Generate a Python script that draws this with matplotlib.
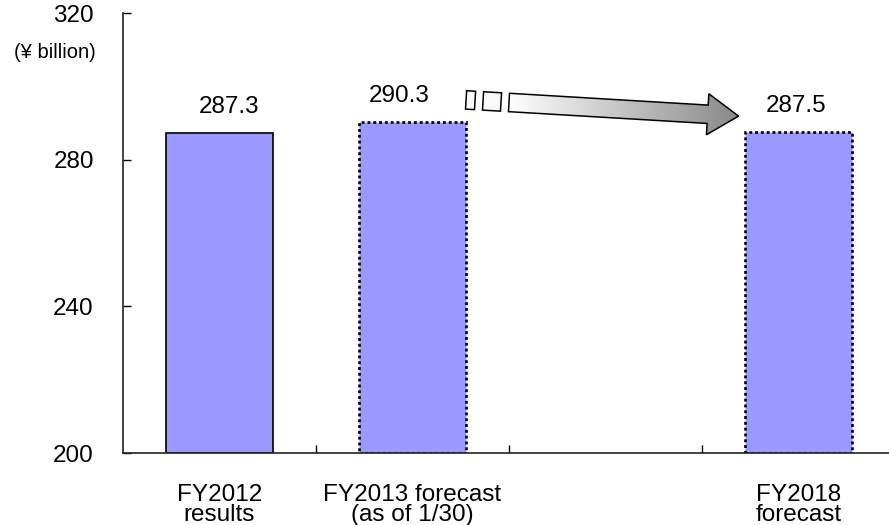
import numpy as np
import matplotlib
matplotlib.use('Agg')
import matplotlib.pyplot as plt
from matplotlib.patches import Polygon
from matplotlib.colors import LinearSegmentedColormap

plt.rcParams['font.family'] = ['Liberation Sans', 'DejaVu Sans']

CATEGORIES = ['FY2012\nresults', 'FY2013 forecast\n(as of 1/30)', '', 'FY2018\nforecast']
VALUES = [287.3, 290.3, None, 287.5]
VALUE_TEXT = ['287.3', '290.3', '', '287.5']
DASHED = [False, True, False, True]
YTICKS = [200, 240, 280, 320]
UNIT = '(¥ billion)'

BAR_COLOR = '#9999ff'
LABEL_DX = [7, -9.5, 0, -2]     # points, small nudges of the value labels

fig = plt.figure(figsize=(8.89, 5.25), dpi=100)
ax = fig.add_axes([123 / 889, 72 / 525, 1 - 123 / 889, 440 / 525])

for i, v in enumerate(VALUES):
    if v is None:
        continue
    ls = (0, (1.1, 1.1)) if DASHED[i] else '-'
    ax.bar(i, v - 200, bottom=200, width=0.555, color=BAR_COLOR,
           edgecolor='black', linewidth=1.9 if DASHED[i] else 1.2, linestyle=ls,
           zorder=2)
    ax.annotate(VALUE_TEXT[i], (i, v), xytext=(LABEL_DX[i], 14.5),
                textcoords='offset points', ha='center', va='baseline',
                fontsize=17.5)

XLIM = (-0.5, (889 - 123) / 193 - 0.5)
YLIM = (200, 320)
ax.set_xlim(*XLIM)
ax.set_ylim(*YLIM)

ax.set_yticks(YTICKS)
ax.tick_params(axis='y', direction='in', length=6, width=1, pad=21, labelsize=17.5)
ax.set_xticks(range(len(CATEGORIES)))
ax.set_xticklabels(CATEGORIES, fontsize=17.5, linespacing=0.9)
ax.tick_params(axis='x', which='major', length=0, pad=22)
ax.set_xticks([0.5, 1.5, 2.5], minor=True)
ax.tick_params(axis='x', which='minor', direction='in', length=6, width=1)
for s in ['top', 'right']:
    ax.spines[s].set_visible(False)
for s in ['left', 'bottom']:
    ax.spines[s].set_linewidth(1.2)
    ax.spines[s].set_color('#222222')

fig.text(55 / 889, 1 - 52 / 525, UNIT, ha='center', va='center', fontsize=14.5)

# striped arrow from FY2013 to FY2018, built in pixel space then mapped to data
theta = np.deg2rad(3.4)
start = ax.transData.transform((1.5, 295.6))
d = np.array([np.cos(theta), -np.sin(theta)])
n = np.array([np.sin(theta), np.cos(theta)])
inv = ax.transData.inverted()


def to_data(pts):
    return inv.transform(np.array([start + u * d + v * n for u, v in pts]))


hw, hh, body_len, tip = 9.2, 20.5, 199, 230
body = to_data([(0, hw), (body_len, hw), (body_len, hh), (tip, 0),
                (body_len, -hh), (body_len, -hw), (0, -hw)])
stripes = [to_data([(a, hw), (b, hw), (b, -hw), (a, -hw)])
           for a, b in [(-43, -34), (-26, -8)]]

arrow = Polygon(body, closed=True, facecolor='none', edgecolor='black',
                linewidth=1.1, zorder=4)
ax.add_patch(arrow)
cmap = LinearSegmentedColormap.from_list('g', ['#ffffff', '#888888'])
grad = np.linspace(0, 1, 256).reshape(1, -1)
img = ax.imshow(grad, cmap=cmap, aspect='auto', zorder=3,
                extent=[body[:, 0].min(), body[:, 0].max(),
                        body[:, 1].min(), body[:, 1].max()])
img.set_clip_path(arrow)
for st in stripes:
    ax.add_patch(Polygon(st, closed=True, facecolor='#fafafa', edgecolor='black',
                         linewidth=1.1, zorder=4))

ax.set_xlim(*XLIM)
ax.set_ylim(*YLIM)

fig.savefig('out.png', dpi=100)
